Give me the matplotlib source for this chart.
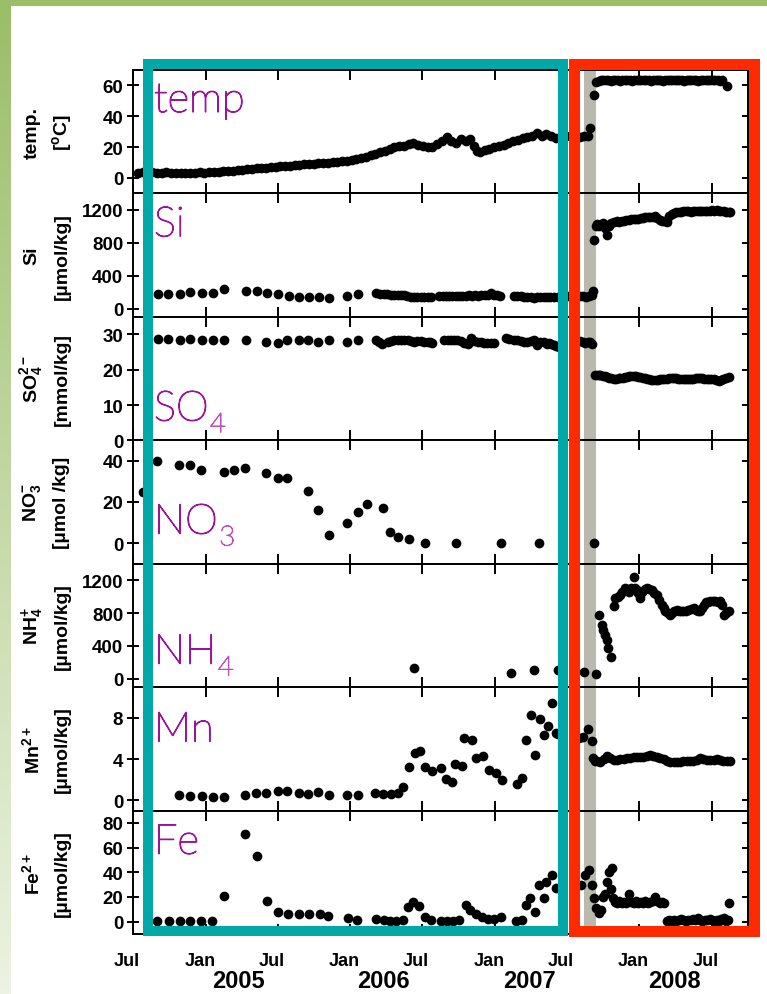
import numpy as np
import matplotlib
matplotlib.use('Agg')
import matplotlib.pyplot as plt
import matplotlib.dates as mdates
import matplotlib.transforms as mtransforms
import matplotlib.patheffects as pe
from matplotlib.patches import Rectangle

plt.rcParams['font.family'] = ['Liberation Sans', 'DejaVu Sans']
plt.rcParams['font.weight'] = 'bold'
plt.rcParams['mathtext.fontset'] = 'custom'
plt.rcParams['mathtext.rm'] = 'Liberation Sans:bold'
plt.rcParams['mathtext.it'] = 'Liberation Sans:bold'
plt.rcParams['mathtext.bf'] = 'Liberation Sans:bold'

# ---------------- data (day offsets from 2004-07-01) ----------------
T0 = np.datetime64('2004-07-01')

temp_day = [12, 24, 36, 48, 60, 72, 84, 96, 108, 120, 132, 144, 156, 168, 180, 192, 204, 216, 228, 240,
            252, 264, 276, 288, 300, 312, 324, 336, 348, 360, 372, 384, 396, 408, 420, 432, 444, 456, 468,
            480, 492, 504, 516, 528, 540, 552, 564, 576, 588, 600, 612, 624, 636, 648, 660, 672, 684, 696,
            708, 720, 732, 744, 756, 768, 780, 792, 804, 816, 828, 840, 852, 862, 868, 876, 888, 900, 912,
            924, 936, 948, 960, 972, 984, 996, 1008, 1020, 1032, 1044, 1056, 1068, 1080, 1092, 1104, 1116,
            1128, 1140, 1148, 1155, 1163, 1170,
            1176, 1182, 1188, 1194, 1200, 1206, 1212, 1218, 1224, 1230, 1236, 1242, 1248, 1254, 1260, 1266,
            1272, 1278, 1284, 1290, 1296, 1302, 1308, 1314, 1320, 1326, 1332, 1338, 1344, 1350, 1356, 1362,
            1368, 1374, 1380, 1386, 1392, 1398, 1404, 1410, 1416, 1422, 1428, 1434, 1440, 1446, 1452, 1458,
            1464, 1470, 1476, 1482, 1488, 1500]
temp_val = [3.5, 3.6, 3.4, 3.6, 3.5, 3.4, 3.6, 3.5, 3.4, 3.5, 3.3, 3.4, 3.5, 3.6, 3.5, 3.7, 3.9, 4.0, 4.3, 4.5,
            4.7, 5.0, 5.3, 5.6, 5.9, 6.2, 6.5, 6.8, 7.0, 7.2, 7.5, 7.7, 7.9, 8.2, 8.4, 8.8, 9.0, 9.3, 9.5,
            9.8, 10.0, 10.2, 10.6, 10.8, 11.2, 11.5, 12.3, 12.8, 13.8, 14.6, 15.8, 16.6, 17.8, 18.9, 20.0,
            20.6, 21.0, 22.0, 22.5, 21.6, 21.0, 20.2, 20.0, 22.0, 24.0, 26.5, 24.0, 23.0, 25.5, 24.0, 25.0,
            21.0, 17.5, 16.8, 18.0, 19.0, 20.0, 20.8, 21.5, 23.0, 24.0, 24.5, 25.8, 26.5, 27.0, 29.0, 27.5,
            28.6, 27.0, 25.8, 26.5, 27.0, 27.5, 27.0, 26.5, 27.5, 27.0, 32.2, 54.0, 62.0,
            63.0, 63.3, 63.2, 63.5, 63.2, 63.0, 63.3, 63.2, 63.4, 63.1, 63.2, 63.5, 63.3, 63.2, 63.0, 63.3,
            63.2, 63.4, 63.3, 63.2, 63.5, 63.3, 63.1, 63.2, 63.4, 63.3, 63.2, 63.0, 63.3, 63.2, 63.4, 63.3,
            63.2, 63.5, 63.3, 63.2, 63.1, 63.3, 63.2, 63.4, 63.3, 63.2, 63.0, 63.3, 63.2, 63.4, 63.3, 63.2,
            63.5, 63.3, 63.2, 63.1, 63.2, 59.6]

si_day = [62, 89, 118, 145, 173, 201, 229, 285, 313, 338, 365, 394, 419, 445, 470, 495, 541, 568, 613, 624,
          634, 642, 651, 660, 668, 676, 685, 693, 702, 710, 718, 727, 735, 744, 752, 773, 782, 790, 798, 806,
          815, 824, 832, 840, 848, 856, 864, 872, 880, 888, 896, 903, 912, 920, 928, 962, 970, 979, 987, 995,
          1004, 1012, 1020, 1029, 1037, 1046, 1054, 1063, 1072, 1080, 1088, 1096, 1104, 1112, 1120, 1128,
          1136, 1144, 1152, 1158, 1162,
          1163, 1168, 1172, 1176, 1180, 1186, 1192, 1197, 1202, 1208, 1214, 1222, 1228, 1234, 1240, 1246,
          1252, 1258, 1264, 1270, 1276, 1282, 1288, 1294, 1300, 1306, 1312, 1318, 1324, 1330, 1336, 1342,
          1348, 1354, 1360, 1366, 1372, 1378, 1384, 1390, 1396, 1402, 1408, 1414, 1420, 1426, 1432, 1438,
          1444, 1450, 1456, 1462, 1468, 1474, 1480, 1486, 1492, 1498, 1504, 1508]
si_val = [176, 176, 176, 204, 192, 192, 237, 217, 210, 192, 176, 155, 143, 143, 143, 135, 155, 176, 184, 180,
          176, 172, 168, 165, 165, 162, 160, 152, 147, 143, 140, 138, 138, 140, 140, 150, 152, 155, 155, 157,
          155, 152, 155, 158, 160, 155, 160, 158, 162, 160, 170, 188, 170, 164, 155, 155, 150, 148, 145, 140,
          138, 135, 138, 140, 142, 145, 143, 145, 143, 145, 148, 150, 148, 150, 150, 148,
          150, 145, 150, 160, 217,
          832, 1000, 1030, 1010, 1016, 1040, 980, 893, 1010, 1040, 1050, 1060, 1055, 1065, 1070, 1075,
          1080, 1085, 1090, 1088, 1095, 1100, 1105, 1110, 1112, 1115, 1110, 1120, 1100, 1080, 1070, 1060,
          1057, 1120, 1150, 1165, 1175, 1180, 1178, 1182, 1185, 1188, 1180, 1185, 1190, 1185, 1188, 1192,
          1190, 1188, 1192, 1195, 1190, 1193, 1188, 1190, 1185, 1180, 1178, 1170]

so4_day = [62, 89, 118, 145, 173, 201, 229, 285, 335, 365, 390, 418, 443, 468, 494, 541, 567, 613, 622, 630,
           643, 651, 660, 668, 677, 685, 694, 702, 710, 718, 727, 735, 744, 750, 756, 786, 795, 803, 811, 819,
           828, 836, 845, 853, 862, 870, 878, 887, 895, 903, 912, 941, 950, 962, 970, 979, 987, 995, 1004,
           1012, 1020, 1029, 1037, 1046, 1050, 1056, 1063, 1069, 1075, 1130, 1136, 1142, 1149, 1155, 1160,
           1166, 1172, 1176, 1180, 1186, 1192, 1197, 1203, 1208, 1214, 1220, 1226, 1231, 1237, 1242, 1247,
           1253, 1258, 1264, 1270, 1276, 1281, 1287, 1292, 1298, 1303, 1309, 1314, 1320, 1326, 1331, 1337,
           1342, 1348, 1354, 1360, 1365, 1371, 1376, 1382, 1388, 1393, 1398, 1404, 1410, 1415, 1421, 1426,
           1432, 1438, 1443, 1449, 1455, 1460, 1466, 1472, 1479, 1485, 1491, 1497, 1504]
so4_val = [28.8, 28.8, 28.3, 28.7, 28.3, 28.5, 28.5, 28.3, 27.9, 27.6, 28.3, 28.5, 28.3, 27.9, 28.3, 27.9,
           28.3, 28.5, 28.0, 27.3, 27.9, 28.2, 28.3, 28.4, 28.5, 28.4, 28.3, 28.1, 28.0, 28.1, 28.1, 28.0,
           27.9, 27.8, 27.7, 28.5, 28.5, 28.5, 28.4, 28.3, 28.1, 27.7, 27.4, 29.1, 28.1, 28.0, 27.9, 27.7,
           27.6, 27.6, 27.6, 29.1, 28.6, 28.3, 28.3, 28.2, 28.0, 27.9, 28.1, 28.5, 27.1, 28.0, 28.0, 27.4,
           27.5, 27.2, 26.9, 26.8, 26.4, 28.1, 28.0, 27.6, 27.8, 28.0, 27.4,
           18.6, 18.6, 18.5, 18.4, 18.3, 18.1, 17.9, 17.8, 17.6, 17.5, 17.5, 17.6, 17.7, 17.8, 17.9, 18.0,
           18.1, 18.1, 18.2, 18.1, 18.0, 18.0, 17.8, 17.6, 17.5, 17.3, 17.1, 17.0, 17.1, 17.2, 17.3, 17.4,
           17.5, 17.5, 17.6, 17.7, 17.7, 17.6, 17.5, 17.5, 17.4, 17.4, 17.3, 17.4, 17.5, 17.5, 17.6, 17.7,
           17.7, 17.6, 17.5, 17.5, 17.4, 17.4, 17.3, 17.1, 16.8, 17.2, 17.5, 17.8, 18.0]

no3_day = [24, 60, 117, 145, 171, 229, 256, 284, 335, 365, 390, 443, 468, 494, 541, 567, 590, 632, 649, 668,
           698, 737, 815, 929, 1026, 1163]
no3_val = [25.0, 39.8, 37.9, 37.9, 35.5, 34.7, 35.5, 36.3, 33.9, 31.9, 31.5, 25.5, 16.1, 4.0, 9.7, 15.0, 19.0,
           16.9, 5.3, 3.2, 2.1, 0.3, 0.3, 0.3, 0.3, 0.0]

nh4_day = [709, 955, 1013, 1074, 1140, 1170, 1178, 1184, 1188, 1192, 1196, 1200, 1208, 1214, 1218, 1224, 1230,
           1236, 1243, 1248, 1252, 1258, 1264, 1268, 1272, 1276, 1281, 1286, 1292, 1298, 1304, 1310, 1316,
           1323, 1329, 1335, 1340, 1344, 1350, 1357, 1362, 1367, 1373, 1380, 1385, 1390, 1396, 1402, 1409,
           1416, 1422, 1427, 1432, 1437, 1442, 1448, 1453, 1458, 1465, 1470, 1476, 1483, 1488, 1492, 1497, 1504]
nh4_val = [130, 70, 110, 110, 90, 57, 781, 659, 598, 537, 476, 375, 261, 883, 985, 1000, 1025, 1060, 1107,
           1080, 1060, 1100, 1237, 1100, 1077, 1050, 985, 1060, 1090, 1107, 1090, 1077, 1050, 1025, 960, 903,
           860, 822, 800, 781, 800, 830, 842, 830, 820, 822, 830, 840, 850, 862, 840, 830, 822, 860, 900, 930,
           940, 944, 944, 945, 940, 944, 900, 781, 800, 822]

mn_day = [117, 145, 173, 201, 229, 284, 311, 337, 365, 390, 418, 443, 468, 494, 541, 567, 611, 632, 651, 668,
          683, 697, 712, 725, 737, 754, 779, 790, 805, 813, 830, 837, 855, 866, 885, 900, 917, 931, 969, 982,
          993, 1004, 1016, 1027, 1037, 1048, 1058, 1069, 1074, 1125, 1137, 1150, 1158,
          1161, 1167, 1172, 1180, 1189, 1197, 1205, 1214, 1222, 1231, 1239, 1247, 1256, 1264, 1272, 1281,
          1289, 1298, 1306, 1314, 1323, 1331, 1340, 1348, 1356, 1365, 1373, 1382, 1390, 1398, 1407, 1415,
          1424, 1432, 1440, 1449, 1457, 1466, 1474, 1482, 1491, 1499, 1508]
mn_val = [0.49, 0.4, 0.37, 0.3, 0.3, 0.49, 0.7, 0.7, 0.94, 0.94, 0.7, 0.6, 0.8, 0.55, 0.55, 0.55, 0.7, 0.6,
          0.6, 0.75, 1.26, 3.2, 4.6, 4.8, 3.2, 2.8, 3.1, 2.1, 1.8, 3.5, 3.3, 6.1, 5.9, 4.1, 4.3, 2.9, 2.7,
          2.0, 1.6, 2.2, 5.9, 8.3, 4.4, 7.9, 6.3, 7.2, 9.5, 6.5, 6.4, 6.05, 6.2, 6.9, 5.8,
          4.1, 3.8, 3.8, 3.7, 4.0, 4.3, 4.1, 3.9, 3.9, 4.0, 4.0, 4.1, 4.1, 4.2, 4.2, 4.2, 4.2, 4.3, 4.4,
          4.3, 4.2, 4.1, 4.0, 3.8, 3.7, 3.7, 3.7, 3.7, 3.8, 3.8, 3.8, 3.8, 3.9, 4.1, 4.0, 3.9, 3.9, 3.9,
          4.0, 3.9, 3.8, 3.8, 3.85]

fe_day = [60, 90, 118, 144, 172, 200, 229, 284, 312, 339, 366, 392, 419, 444, 471, 493, 543, 566, 613, 633,
          648, 665, 681, 695, 708, 723, 738, 753, 778, 793, 808, 823, 840, 852, 867, 882, 897, 912, 930, 967,
          982, 992, 1002, 1014, 1025, 1037, 1042, 1057, 1067, 1132, 1142, 1152, 1159, 1163, 1169, 1176, 1181,
          1186, 1191, 1196, 1201, 1206, 1209, 1211, 1216, 1221, 1228, 1234, 1240, 1246, 1252, 1258, 1264,
          1270, 1276, 1282, 1288, 1294, 1300, 1306, 1312, 1318, 1324, 1330, 1336, 1342, 1348, 1354, 1360,
          1366, 1372, 1378, 1384, 1390, 1396, 1402, 1408, 1414, 1420, 1426, 1432, 1438, 1444, 1450, 1456,
          1462, 1468, 1474, 1480, 1486, 1492, 1498, 1502, 1506]
fe_val = [0.5, 0.5, 0.5, 0.5, 0.5, 0.5, 20.7, 71.1, 53.2, 16.6, 7.5, 6.4, 6.4, 6.2, 5.9, 4.6, 3.2, 1.3, 2.1,
          1.3, 0.8, 0.8, 1.3, 12.1, 16.1, 12.9, 4.0, 1.3, 0.5, 0.8, 0.8, 1.3, 13.4, 9.4, 5.9, 4.0, 2.1, 1.9,
          3.5, 0.5, 1.1, 13.4, 18.8, 8.1, 30.1, 18.8, 32.2, 38.1, 27.4, 30.1, 37.6, 41.6, 30.1, 19.3, 10.7,
          6.7, 9.4, 20.1, 22.8, 32.2, 40.3, 26.8, 43.5, 18.8, 16.0, 14.8, 16.5, 15.5, 16.0, 15.0, 22.8, 16.0,
          15.5, 16.5, 15.0, 16.0, 15.5, 16.5, 15.5, 16.0, 17.0, 20.1, 16.5, 15.5, 16.0, 15.5, 0.8, 1.0, 0.5,
          1.2, 0.8, 1.5, 2.5, 1.0, 0.8, 1.5, 1.0, 2.0, 1.5, 2.8, 1.2, 0.8, 1.5, 1.0, 2.0, 1.0, 0.5, 1.2, 0.8,
          2.5, 3.0, 0.5, 1.0, 14.8]

panel_names = ['temp', 'Si', 'SO', 'NO', 'NH', 'Mn', 'Fe']
panel_subs = ['', '', '4', '3', '4', '', '']
ylab1 = ['temp.', 'Si', r'SO$_4^{2-}$', r'NO$_3^{-}$', r'NH$_4^{+}$', r'Mn$^{2+}$', r'Fe$^{2+}$']
ylab2 = [r'[$^{o}$C]', '[\u00b5mol/kg]', '[mmol/kg]', '[\u00b5mol /kg]', '[\u00b5mol/kg]', '[\u00b5mol/kg]',
         '[\u00b5mol/kg]']
ylims = [(-10, 70), (-100, 1400), (0, 35), (-10, 50), (-100, 1400), (-1, 11), (-10, 90)]
yticks = [[0, 20, 40, 60], [0, 400, 800, 1200], [0, 10, 20, 30], [0, 20, 40], [0, 400, 800, 1200],
          [0, 4, 8], [0, 20, 40, 60, 80]]
years = ['2005', '2006', '2007', '2008']
year_pos = ['2005-03-24', '2006-03-26', '2007-03-30', '2008-03-28']
gray_span = ('2007-08-15', '2007-09-14')
xlim = ('2004-07-01', '2008-10-01')

series_days = [temp_day, si_day, so4_day, no3_day, nh4_day, mn_day, fe_day]
series_vals = [temp_val, si_val, so4_val, no3_val, nh4_val, mn_val, fe_val]


def to_dates(days):
    return T0 + np.round(np.array(days)).astype('timedelta64[D]')


# ---------------- figure ----------------
W, H = 767, 995
fig = plt.figure(figsize=(W / 100, H / 100), dpi=100)
fig.patch.set_facecolor('white')

axes = fig.subplots(7, 1, sharex=True, gridspec_kw=dict(hspace=0))
fig.subplots_adjust(left=133 / W, right=748 / W, top=1 - 71 / H, bottom=1 - 935 / H)

PURPLE = '#9a149a'
SUBPURPLE = '#bf4fbf'

for i, ax in enumerate(axes):
    d = to_dates(series_days[i])
    ax.axvspan(np.datetime64(gray_span[0]), np.datetime64(gray_span[1]), color='#b9b9ad', lw=0, zorder=0)
    ax.plot(d, series_vals[i], 'o', color='black', ms=7, mew=0, zorder=3)
    ax.set_ylim(*ylims[i])
    ax.set_yticks(yticks[i])
    ax.set_xlim(np.datetime64(xlim[0]), np.datetime64(xlim[1]))
    for s in ax.spines.values():
        s.set_linewidth(1.4)
    ax.tick_params(axis='y', direction='inout', length=8, width=1.4, left=True, right=True,
                   labelsize=13.5, pad=3)
    ax.tick_params(axis='x', direction='in', length=7, width=1.4, top=True, bottom=True,
                   labelsize=13, pad=13)

ax_b = axes[-1]
ax_b.xaxis.set_major_locator(mdates.MonthLocator(bymonth=[1, 7]))
ax_b.xaxis.set_major_formatter(mdates.DateFormatter('%b'))
shift = mtransforms.ScaledTranslation(-6 / 100, 0, fig.dpi_scale_trans)
for lab in ax_b.get_xticklabels():
    lab.set_transform(lab.get_transform() + shift)

# year labels
btr = mtransforms.blended_transform_factory(ax_b.transData, fig.transFigure)
for yr, pos in zip(years, year_pos):
    fig.text(mdates.date2num(np.datetime64(pos)), 1 - 982 / H, yr, transform=btr, ha='center',
             va='center', fontsize=17, fontweight='bold')

# y labels (two lines)
for i, ax in enumerate(axes):
    p = ax.get_position()
    yc = (p.y0 + p.y1) / 2
    fig.text(32 / W, yc, ylab1[i], rotation=90, ha='center', va='center', fontsize=14, fontweight='bold')
    fig.text(62 / W, yc, ylab2[i], rotation=90, ha='center', va='center', fontsize=14, fontweight='bold')

# purple panel names
label_y = [0.66, 0.653, 0.16, 0.244, 0.19, 0.56, 0.65]
renderer = fig.canvas.get_renderer()
fx_main = [pe.withStroke(linewidth=0.9, foreground=PURPLE)]
fx_sub = [pe.withStroke(linewidth=0.7, foreground=SUBPURPLE)]
for i, ax in enumerate(axes):
    t = ax.text(0.034, label_y[i], panel_names[i], transform=ax.transAxes, fontsize=30, color=PURPLE,
                family=['Lato', 'DejaVu Sans'], fontweight='light', ha='left', va='baseline', zorder=5,
                path_effects=fx_main)
    if panel_subs[i]:
        bb = t.get_window_extent(renderer=renderer)
        xa = ax.transAxes.inverted().transform((bb.x1, bb.y0))[0]
        tr = mtransforms.offset_copy(ax.transAxes, fig=fig, x=1, y=-8.5, units='points')
        ax.text(xa, label_y[i], panel_subs[i], transform=tr, fontsize=20, color=SUBPURPLE,
                family=['Lato', 'DejaVu Sans'], fontweight='light', ha='left', va='baseline', zorder=5,
                path_effects=fx_sub)

# coloured frames (x in data coordinates, y in figure fraction)
def frame(x0, x1, color, lw_px):
    n0 = mdates.date2num(T0 + np.timedelta64(x0, 'D'))
    n1 = mdates.date2num(T0 + np.timedelta64(x1, 'D'))
    y0 = 1 - 932 / H
    y1 = 1 - 65.3 / H
    r = Rectangle((n0, y0), n1 - n0, y1 - y0, transform=btr, fill=False, edgecolor=color,
                  linewidth=lw_px * 0.72, joinstyle='miter', clip_on=False, zorder=20)
    fig.add_artist(r)

frame(38, 1087, '#00a8a8', 10)
frame(1114, 1568, '#ff2a00', 11)

# green border
fig.add_artist(Rectangle((0, 1 - 7 / H), 1, 7 / H, transform=fig.transFigure, color='#9bbf69',
                         lw=0, zorder=30))
gax = fig.add_axes([0, 0, 11 / W, 1 - 7 / H])
top = np.array([155, 190, 105]) / 255
bot = np.array([236, 243, 226]) / 255
g = np.linspace(0, 1, 256)[:, None]
grad = (top[None, :] * (1 - g) + bot[None, :] * g)[:, None, :]
gax.imshow(grad, aspect='auto', extent=(0, 1, 0, 1))
gax.set_axis_off()

fig.savefig('out.png', dpi=100, facecolor='white')
